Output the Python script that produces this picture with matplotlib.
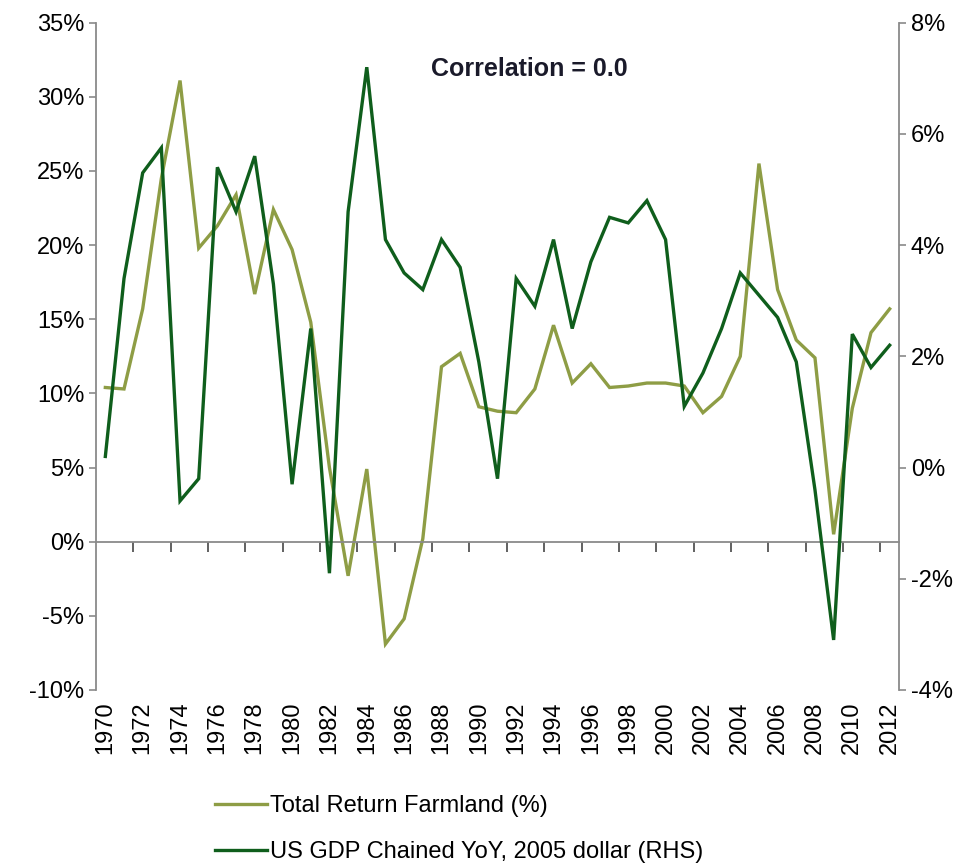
import matplotlib
matplotlib.use("Agg")
import matplotlib.pyplot as plt
from matplotlib.ticker import FixedLocator, FuncFormatter

years = list(range(1970, 2013))
farmland = [10.4, 10.3, 15.7, 24.5, 31.1, 19.8, 21.3, 23.4, 16.7, 22.4,
            19.7, 14.8, 5.0, -2.3, 4.9, -6.9, -5.2, 0.2, 11.8, 12.7,
            9.1, 8.8, 8.7, 10.3, 14.6, 10.7, 12.0, 10.4, 10.5, 10.7,
            10.7, 10.5, 8.7, 9.8, 12.5, 25.5, 17.0, 13.6, 12.4, 0.5,
            9.0, 14.1, 15.7]
gdp = [0.2, 3.4, 5.3, 5.75, -0.6, -0.2, 5.4, 4.6, 5.6, 3.3,
       -0.3, 2.5, -1.9, 4.6, 7.2, 4.1, 3.5, 3.2, 4.1, 3.6,
       1.9, -0.2, 3.4, 2.9, 4.1, 2.5, 3.7, 4.5, 4.4, 4.8,
       4.1, 1.1, 1.7, 2.5, 3.5, 3.1, 2.7, 1.9, -0.4, -3.1,
       2.4, 1.8, 2.2]
left_ticks = [-10, -5, 0, 5, 10, 15, 20, 25, 30, 35]
right_ticks = [-4, -2, 0, 2, 4, 6, 8]
label_years = years[::2]

olive = "#8E9D45"
dark = "#0F5E1C"
grey = "#8A8A8A"

plt.rcParams['font.family'] = ['Liberation Sans', 'DejaVu Sans']

fig = plt.figure(figsize=(9.73, 8.64), dpi=100)
ax = fig.add_axes([96/973, 1-690/864, (899-96)/973, (690-22.7)/864])
ax2 = ax.twinx()

l1, = ax.plot(years, farmland, color=olive, lw=2.4, solid_joinstyle='miter')
l2, = ax2.plot(years, gdp, color=dark, lw=2.4, solid_joinstyle='miter')

ax.set_xlim(1969.5, 2012.5)
ax.set_ylim(-10, 35)
ax2.set_ylim(-4, 8)

pct = FuncFormatter(lambda v, p: f"{int(v)}%")
ax.yaxis.set_major_locator(FixedLocator(left_ticks))
ax.yaxis.set_major_formatter(pct)
ax2.yaxis.set_major_locator(FixedLocator(right_ticks))
ax2.yaxis.set_major_formatter(pct)

for a in (ax, ax2):
    a.spines['top'].set_visible(False)
    a.spines['bottom'].set_visible(False)
    a.spines['left'].set_color(grey)
    a.spines['right'].set_color(grey)
    a.spines['left'].set_linewidth(1.3)
    a.spines['right'].set_linewidth(1.3)
    a.tick_params(axis='y', colors=grey, labelcolor='black', labelsize=17,
                  length=5, width=1.2, direction='out')
ax2.spines['left'].set_visible(False)
ax.spines['right'].set_visible(False)

# x axis line at 0 with ticks between categories
ax.spines['bottom'].set_visible(True)
ax.spines['bottom'].set_position(('data', 0))
ax.spines['bottom'].set_color(grey)
ax.spines['bottom'].set_linewidth(1.3)
ax.set_xticks([y + 0.5 for y in years[1:-1:2]])
ax.set_xticklabels([])
ax.tick_params(axis='x', colors='#555555', length=7, width=1.3, direction='out')

sec = ax.secondary_xaxis('bottom')
sec.set_xticks(label_years)
sec.set_xticklabels([str(y) for y in label_years], rotation=90, fontsize=17)
sec.tick_params(length=0, pad=8)
sec.spines['bottom'].set_visible(False)

ax.text(0.54, 0.93, "Correlation = 0.0", transform=ax.transAxes,
        ha='center', va='center', fontsize=18, fontweight='bold',
        color='#1a1a2a')

fig.legend([l1, l2], ["Total Return Farmland (%)",
                      "US GDP Chained YoY, 2005 dollar (RHS)"],
           loc='upper left', bbox_to_anchor=(194/973, 1-774/864),
           frameon=False, fontsize=17, handlelength=2.2, handletextpad=0.1,
           labelspacing=1.0)

fig.savefig("out.png", dpi=100)
